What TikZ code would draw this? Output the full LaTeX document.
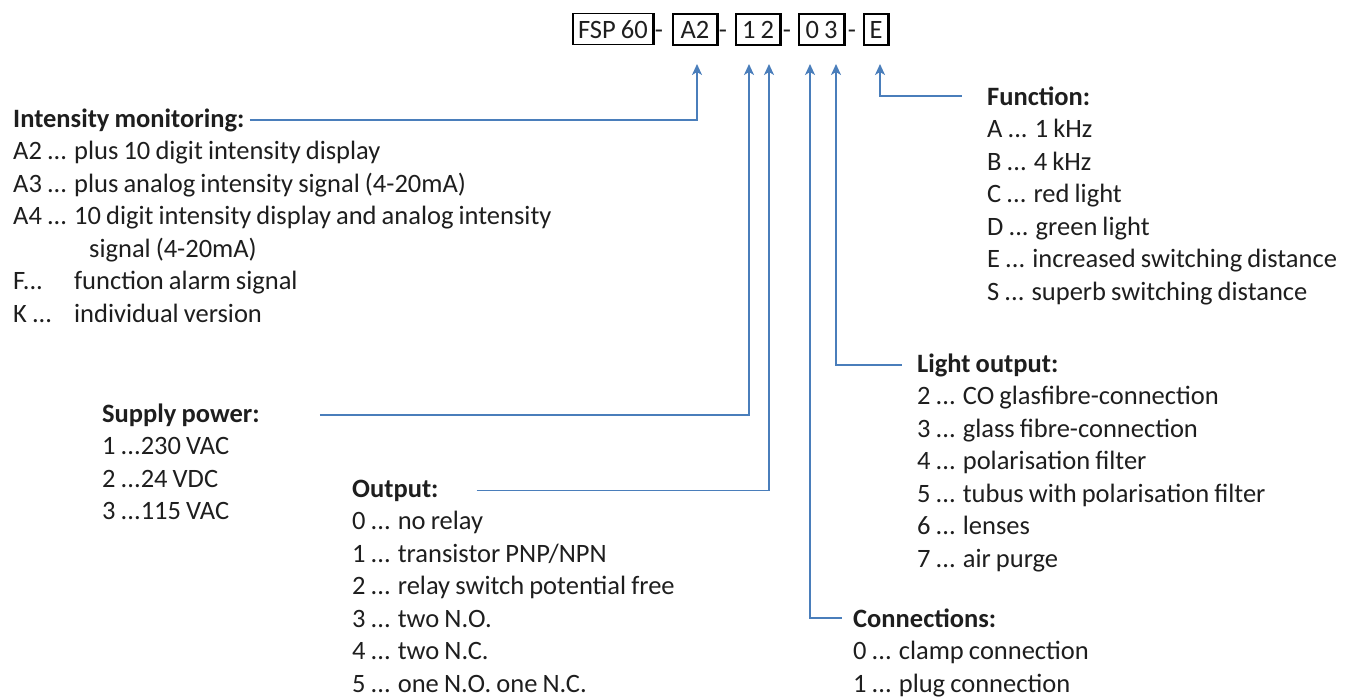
\documentclass[tikz,border=0pt]{standalone}
\usepackage{fontspec}
\setmainfont{Carlito}[WordSpace=0.85]
\usetikzlibrary{arrows.meta}
\definecolor{connblue}{HTML}{4A7EBB}
\definecolor{txt}{HTML}{1E1E1E}
\newcommand{\lst}[1]{\begin{tabular}[t]{@{}l@{}}#1\end{tabular}}
\newlength{\itemw}
\begin{document}
\begin{tikzpicture}[x=1pt,y=-1pt,
  every node/.style={font=\fontsize{26.5}{32.5}\selectfont, text=txt, inner sep=0pt},
  codebox/.style={draw=black, line width=1.2pt, minimum height=31pt, anchor=base},
  dashsep/.style={anchor=base},
  head/.style={anchor=base west, font=\fontsize{26.5}{32.5}\selectfont\bfseries},
  listbox/.style={anchor=base west, align=left},
  connector/.style={draw=connblue, line width=1.6pt},
  tipend/.style={-{Stealth[length=11pt,width=10pt,inset=3pt]}},
  tipstart/.style={{Stealth[length=11pt,width=10pt,inset=3pt]}-},
  edge/.style={draw=black, line width=2.6pt}
]
\useasboundingbox (0,0) rectangle (1363,699);

% header code
\node[codebox, minimum width=80pt] (fsp) at (613,38) {FSP 60};
\node[dashsep] (d1) at (659,38) {-};
\node[codebox, minimum width=44pt] (ba2) at (695,38) {A2};
\node[dashsep] (d2) at (723,38) {-};
\node[codebox, minimum width=44pt] (b12) at (758,38) {1 2};
\node[dashsep] (d3) at (787,38) {-};
\node[codebox, minimum width=45pt] (b03) at (821.5,38) {0 3};
\node[dashsep] (d4) at (852,38) {-};
\node[codebox, minimum width=24pt] (be) at (876,38) {E};
\foreach \b in {fsp,ba2,b12,b03,be}
  \draw[edge] (\b.north east) -- (\b.south east);

% arrow tips
\coordinate (tA2) at (697,64);
\coordinate (t1) at (749,64);
\coordinate (t2) at (769,64);
\coordinate (t0) at (810,64);
\coordinate (t3) at (836,64);
\coordinate (tE) at (880,64);

% Intensity monitoring
\node[head] (intH) at (13,127) {Intensity monitoring:};
\node[listbox] (intL) at ([yshift=-32.5pt]intH.base west) {\settowidth{\itemw}{A2 ... }\lst{%
A2 ... plus 10 digit intensity display\\
A3 ... plus analog intensity signal (4-20mA)\\
A4 ... 10 digit intensity display and analog intensity\\
\hspace*{\dimexpr\itemw+15pt\relax}signal\hspace{5pt}(4-20mA)\\
\makebox[\dimexpr\itemw\relax][l]{F...}function alarm signal\\
\makebox[\dimexpr\itemw\relax][l]{K ...}individual version}};

% Supply power
\node[head] (supH) at (102,422) {Supply power:};
\node[listbox] (supL) at ([yshift=-32.5pt]supH.base west) {\lst{%
1 ...230\hspace{5pt}VAC\\
2 ...24 VDC\\
3 ...115\hspace{5pt}VAC}};

% Output
\node[head] (outH) at (352,497) {Output:};
\node[listbox] (outL) at ([yshift=-32.5pt]outH.base west) {\lst{%
0 ... no relay\\
1 ... transistor PNP/NPN\\
2 ... relay switch potential free\\
3 ... two N.O.\\
4 ... two N.C.\\
5 ... one N.O. one N.C.}};

% Connections
\node[head] (conH) at (853,627) {Connections:};
\node[listbox] (conL) at ([yshift=-32.5pt]conH.base west) {\lst{%
0 ... clamp connection\\
1 ... plug connection}};

% Light output
\node[head] (ligH) at (917,372) {Light output:};
\node[listbox] (ligL) at ([yshift=-32.5pt]ligH.base west) {\lst{%
2 ... CO glasfibre-connection\\
3 ... glass fibre-connection\\
4 ... polarisation filter\\
5 ... tubus with polarisation filter\\
6 ... lenses\\
7 ... air purge}};

% Function
\node[head] (funH) at (987,105) {Function:};
\node[listbox] (funL) at ([yshift=-32.5pt]funH.base west) {\lst{%
A ... 1 kHz\\
B ... 4 kHz\\
C ... red light\\
D ... green light\\
E ... increased switching distance\\
S ... superb switching distance}};

% connectors
\draw[connector, tipend] ([xshift=5pt]intH.east) -| (tA2);
\draw[connector, tipend] ([xshift=60pt]supH.east) -| (t1);
\draw[connector, tipend] ([xshift=38pt]outH.east) -| (t2);
\draw[connector, tipstart] (t0) |- ([xshift=-11pt]conH.west);
\draw[connector, tipstart] (t3) |- ([xshift=-15pt]ligH.west);
\draw[connector, tipstart] (tE) |- ([xshift=-25pt]funH.west);
\end{tikzpicture}
\end{document}
